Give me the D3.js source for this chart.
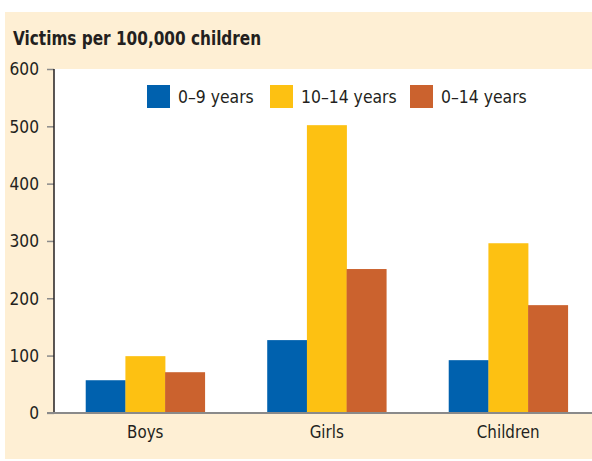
<html lang="en">
<head>
    <meta charset="UTF-8"/>
    <title>Victims per 100,000 children</title>
    <script src="https://d3js.org/d3.v7.min.js"></script>
    <style>
        body { margin: 0; background: #ffffff; }
        text { font-family: "DejaVu Sans", sans-serif; fill: #231f20; }
    </style>
</head>
<body>
    <script>
        var groups = ["Boys", "Girls", "Children"];
        var series = ["0\u20139 years", "10\u201314 years", "0\u201314 years"];
        var age0to9 = [57, 127, 92];
        var age10to14 = [99, 502, 296];
        var age0to14 = [71, 251, 188];
        var yTicks = [0, 100, 200, 300, 400, 500, 600];
        var colors = ["#0061ae", "#fdc112", "#cb622e"];

        var w = 592;
        var h = 461;
        var plotLeft = 54;
        var plotTop = 69;
        var plotBottom = 413;

        // no condensed font installed, so squeeze text horizontally round its anchor
        function squeeze(sel, sx) {
            sel.attr("transform", function() {
                var ax = +this.getAttribute("x") || 0;
                return "translate(" + (ax * (1 - sx)) + ",0) scale(" + sx + ",1)";
            });
        }

        var rows = groups.map(function(g, i) {
            return { group: g, values: [age0to9[i], age10to14[i], age0to14[i]] };
        });

        var svg = d3.select("body")
                    .append("svg")
                    .attr("width", w)
                    .attr("height", h);

        // beige panel
        svg.append("rect")
            .attr("x", 5).attr("y", 12)
            .attr("width", w - 5).attr("height", 447)
            .attr("fill", "#feefd4");

        // white plot area
        svg.append("rect")
            .attr("x", plotLeft).attr("y", plotTop)
            .attr("width", w - plotLeft).attr("height", plotBottom - plotTop)
            .attr("fill", "#ffffff");

        var title = svg.append("text")
            .attr("x", 13)
            .attr("y", 45)
            .attr("font-size", 20)
            .attr("font-weight", "bold")
            .text("Victims per 100,000 children");
        squeeze(title, 0.765);

        var x0 = d3.scaleBand()
                    .domain(groups)
                    .range([plotLeft + 0.5, w + 7])
                    .paddingInner(0.344)
                    .paddingOuter(0.172);

        var x1 = d3.scaleBand()
                    .domain(d3.range(series.length))
                    .range([0, x0.bandwidth()]);

        var yScale = d3.scaleLinear()
                    .domain([0, 600])
                    .range([412.9, 69]);

        svg.selectAll("g.group")
            .data(rows)
            .enter()
            .append("g")
            .attr("class", "group")
            .attr("transform", function(d) { return "translate(" + x0(d.group) + ",0)"; })
            .selectAll("rect")
            .data(function(d) { return d.values; })
            .enter()
            .append("rect")
            .attr("x", function(d, i) { return x1(i); })
            .attr("y", function(d) { return yScale(d); })
            .attr("width", x1.bandwidth() + 0.3)
            .attr("height", function(d) { return yScale(0) - yScale(d); })
            .attr("fill", function(d, i) { return colors[i]; });

        // Y axis
        var yAxis = d3.axisLeft(yScale)
                    .tickValues(yTicks)
                    .tickSize(7)
                    .tickPadding(8);
        var yg = svg.append("g")
            .attr("transform", "translate(" + plotLeft + ",0)")
            .call(yAxis);
        yg.select(".domain").remove();
        yg.selectAll(".tick line").attr("stroke", "#8a8a8a").attr("stroke-width", 1.5);
        yg.selectAll(".tick text")
            .attr("font-size", 18)
            .attr("fill", "#231f20")
            .call(squeeze, 0.86);
        svg.append("line")
            .attr("x1", plotLeft).attr("x2", plotLeft)
            .attr("y1", plotTop).attr("y2", plotBottom)
            .attr("stroke", "#231f20").attr("stroke-width", 1.5);

        // X axis
        var xAxis = d3.axisBottom(x0).tickSize(0).tickPadding(12);
        var xg = svg.append("g")
            .attr("transform", "translate(0," + yScale(0) + ")")
            .call(xAxis);
        xg.select(".domain").remove();
        xg.selectAll(".tick text")
            .attr("font-size", 18)
            .attr("fill", "#231f20")
            .call(squeeze, 0.84);
        svg.append("line")
            .attr("x1", 47).attr("x2", w)
            .attr("y1", yScale(0)).attr("y2", yScale(0))
            .attr("stroke", "#8a8a8a").attr("stroke-width", 2);

        // legend
        var legendX = [147, 270, 410];
        var legend = svg.selectAll("g.legend")
            .data(series)
            .enter()
            .append("g")
            .attr("class", "legend")
            .attr("transform", function(d, i) { return "translate(" + legendX[i] + ",85)"; });
        legend.append("rect")
            .attr("width", 23).attr("height", 23)
            .attr("fill", function(d, i) { return colors[i]; });
        legend.append("text")
            .attr("x", 31)
            .attr("y", 18)
            .attr("font-size", 18)
            .text(function(d) { return d; })
            .call(squeeze, 0.87);
    </script>
</body>
</html>
